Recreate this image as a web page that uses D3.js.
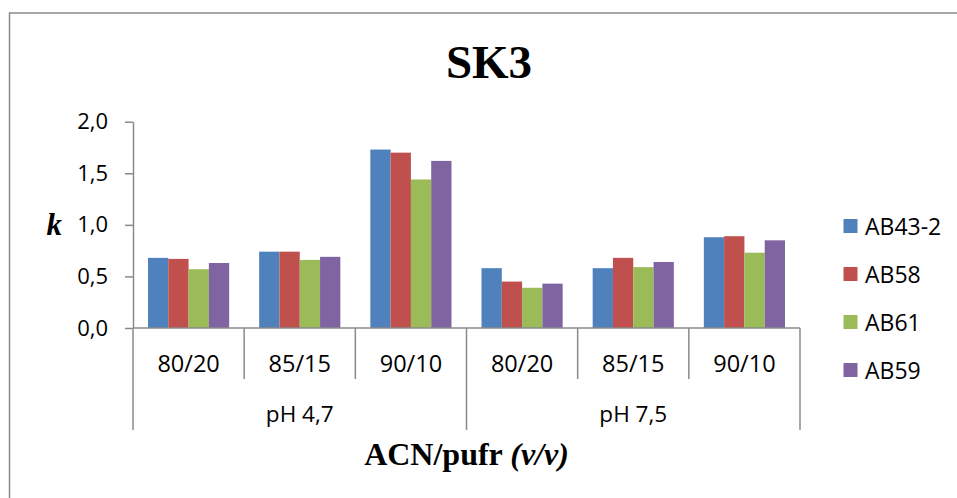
<!DOCTYPE html>
<html>
<head>
<meta charset="utf-8">
<script src="https://cdn.jsdelivr.net/npm/d3@7"></script>
<style>
  body { margin: 0; background: #fff; }
  svg { display: block; }
  .tick text { font-family: "Open Sans", sans-serif; fill: #000; }
</style>
</head>
<body>
<svg id="chart" width="957" height="498"></svg>
<script>
// dữ liệu
const series = ["AB43-2", "AB58", "AB61", "AB59"];
const ratios = ["80/20", "85/15", "90/10"];
const phGroups = ["pH 4,7", "pH 7,5"];
const ab43_2 = [0.68, 0.74, 1.73, 0.58, 0.58, 0.88];
const ab58   = [0.67, 0.74, 1.70, 0.45, 0.68, 0.89];
const ab61   = [0.57, 0.66, 1.44, 0.39, 0.59, 0.73];
const ab59   = [0.63, 0.69, 1.62, 0.43, 0.64, 0.85];
const yTicks = [0, 0.5, 1.0, 1.5, 2.0];

const values = [ab43_2, ab58, ab61, ab59];
const colors = ["#4F81BD", "#C0504D", "#9BBB59", "#8064A2"];

// danh sách category (nhóm pH x tỉ lệ)
const cats = [];
phGroups.forEach(g => ratios.forEach(r => cats.push({key: g + "|" + r, ph: g, ratio: r})));

const data = [];
cats.forEach((c, i) => {
  series.forEach((s, j) => data.push({cat: c.key, s, v: values[j][i]}));
});

const svg = d3.select("#chart");
const axisColor = "#8a8a8a";

// khung ngoài
svg.append("rect")
  .attr("x", 9.5).attr("y", 13)
  .attr("width", 1000).attr("height", 600)
  .attr("fill", "none")
  .attr("stroke", axisColor)
  .attr("stroke-width", 1.5);

const x0 = d3.scaleBand()
  .domain(cats.map(c => c.key))
  .range([133, 800])
  .padding(0);

const x1 = d3.scaleBand()
  .domain(series)
  .range([15, x0.bandwidth() - 15])
  .padding(0);

const y = d3.scaleLinear()
  .domain([0, 2])
  .range([328, 121.7]);

const color = d3.scaleOrdinal().domain(series).range(colors);

// cột
svg.append("g")
  .selectAll("rect")
  .data(data)
  .join("rect")
  .attr("x", d => x0(d.cat) + x1(d.s))
  .attr("y", d => y(d.v))
  .attr("width", x1.bandwidth())
  .attr("height", d => y(0) - y(d.v))
  .attr("fill", d => color(d.s));

// trục y
const yAxis = svg.append("g")
  .attr("transform", "translate(133,0)")
  .call(d3.axisLeft(y)
    .tickValues(yTicks)
    .tickFormat(d => d3.format(".1f")(d).replace(".", ","))
    .tickSize(8)
    .tickSizeOuter(0)
    .tickPadding(17));
yAxis.selectAll("path, line").attr("stroke", axisColor).attr("stroke-width", 1.5);
yAxis.selectAll("text").style("font-size", "22px");

// trục x
const xAxis = svg.append("g");
xAxis.append("line")
  .attr("x1", x0.range()[0]).attr("x2", x0.range()[1])
  .attr("y1", y(0)).attr("y2", y(0))
  .attr("stroke", axisColor).attr("stroke-width", 1.5);

const bounds = cats.map(c => x0(c.key)).concat([x0.range()[1]]);
xAxis.selectAll(".sep")
  .data(bounds)
  .join("line")
  .attr("class", "sep")
  .attr("x1", d => d).attr("x2", d => d)
  .attr("y1", y(0))
  .attr("y2", (d, i) => i % ratios.length === 0 ? 430 : 379)
  .attr("stroke", axisColor).attr("stroke-width", 1.5);

xAxis.selectAll(".ratio")
  .data(cats)
  .join("text")
  .attr("class", "ratio")
  .attr("x", d => x0(d.key) + x0.bandwidth() / 2)
  .attr("y", 371.5)
  .attr("text-anchor", "middle")
  .style("font-family", "'Open Sans', sans-serif")
  .style("font-size", "23.5px")
  .text(d => d.ratio);

xAxis.selectAll(".ph")
  .data(phGroups)
  .join("text")
  .attr("class", "ph")
  .attr("x", g => {
    const ks = cats.filter(c => c.ph === g).map(c => c.key);
    return (x0(ks[0]) + x0(ks[ks.length - 1]) + x0.bandwidth()) / 2;
  })
  .attr("y", 421.5)
  .attr("text-anchor", "middle")
  .style("font-family", "'Open Sans', sans-serif")
  .style("font-size", "22.5px")
  .text(d => d);

// tiêu đề
svg.append("text")
  .attr("x", 489).attr("y", 78)
  .attr("text-anchor", "middle")
  .style("font-family", "'Liberation Serif', 'Times New Roman', serif")
  .style("font-weight", "bold")
  .style("font-size", "47px")
  .text("SK3");

// nhãn trục y
svg.append("text")
  .attr("x", 46.5).attr("y", 235)
  .style("font-family", "'Liberation Serif', 'Times New Roman', serif")
  .style("font-weight", "bold")
  .style("font-style", "italic")
  .style("font-size", "31px")
  .text("k");

// nhãn trục x
const xt = svg.append("text")
  .attr("x", (x0.range()[0] + x0.range()[1]) / 2).attr("y", 465)
  .attr("text-anchor", "middle")
  .style("font-family", "'Liberation Serif', 'Times New Roman', serif")
  .style("font-weight", "bold")
  .style("font-size", "32px");
xt.append("tspan").text("ACN/pufr ");
xt.append("tspan").style("font-style", "italic").text("(v/v)");

// chú giải
const legend = svg.append("g").attr("transform", "translate(843.5,219)");
series.forEach((s, i) => {
  legend.append("rect")
    .attr("x", 0).attr("y", i * 48)
    .attr("width", 14).attr("height", 14)
    .attr("fill", color(s));
  legend.append("text")
    .attr("x", 21.5).attr("y", i * 48 + 15.5)
    .style("font-family", "'Open Sans', sans-serif")
    .style("font-size", "23px")
    .text(s);
});
</script>
</body>
</html>
